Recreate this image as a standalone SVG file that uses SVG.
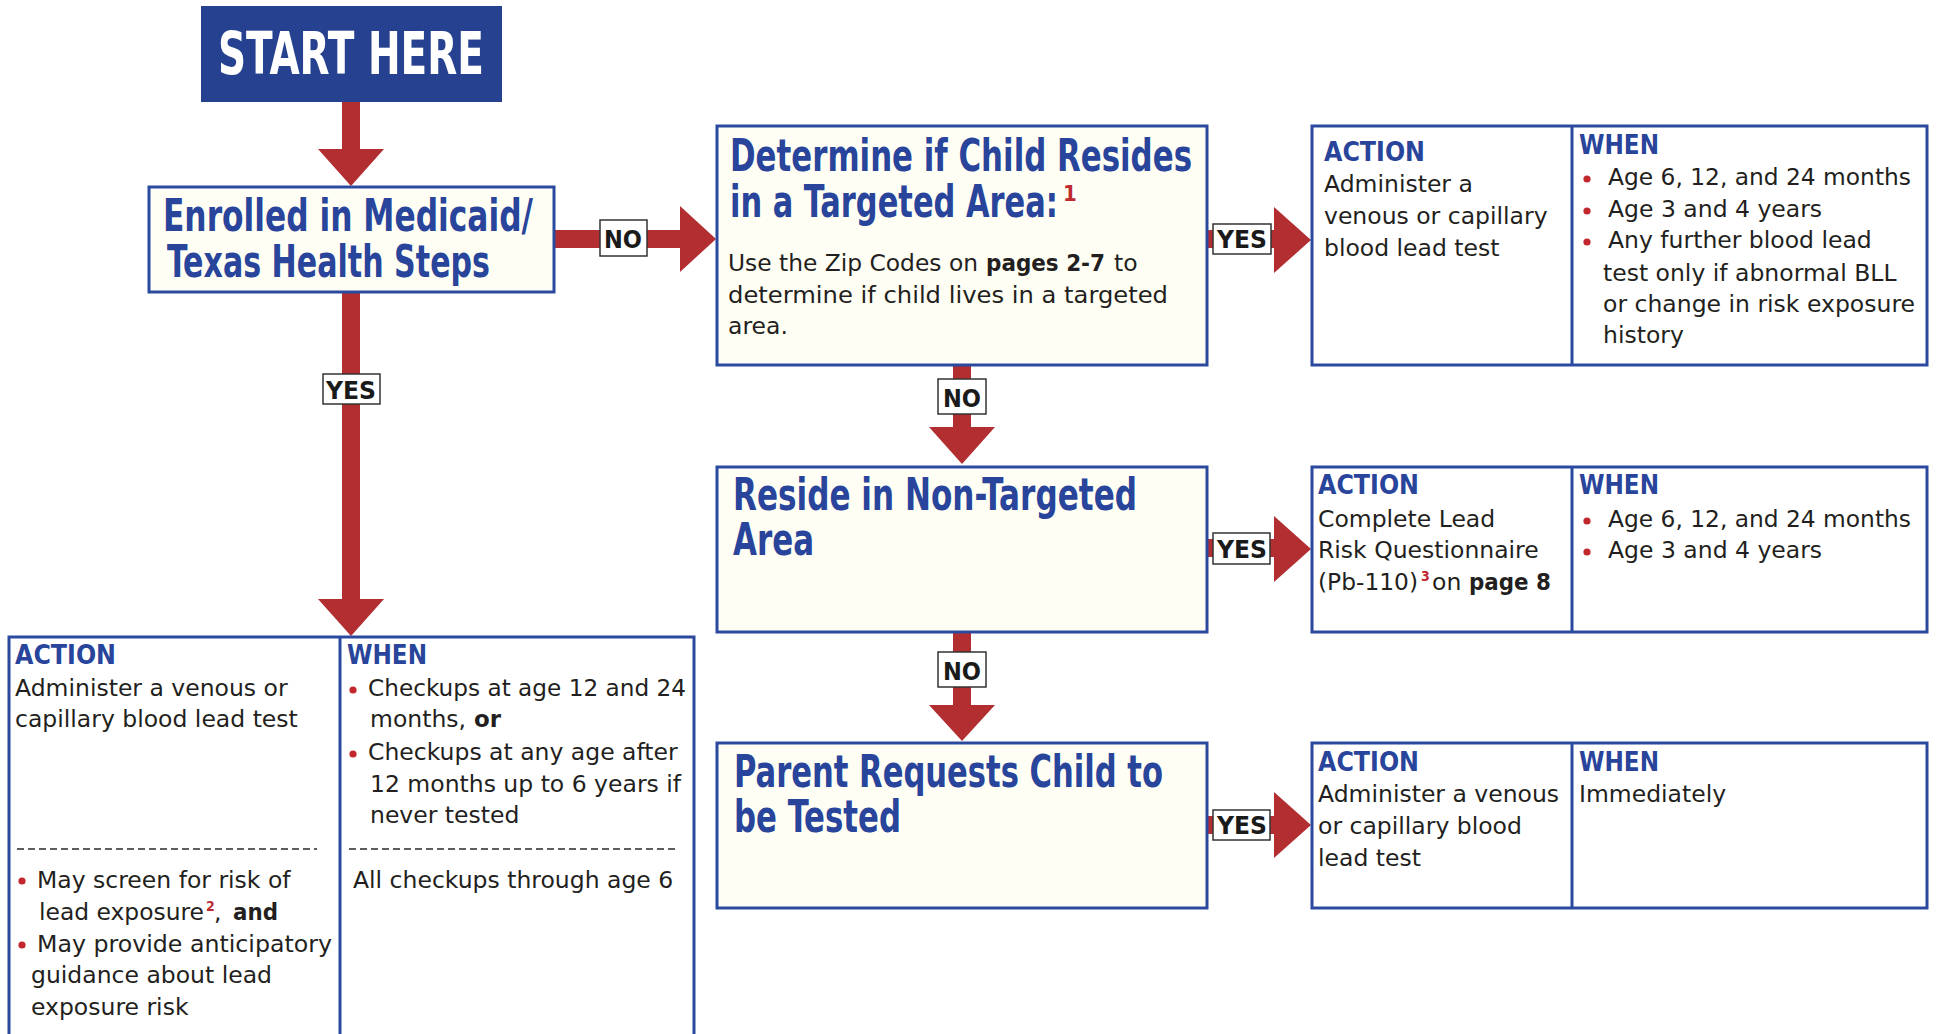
<svg xmlns="http://www.w3.org/2000/svg" width="1937" height="1034" viewBox="0 0 1937 1034">
<style>
.hd{font-family:"DejaVu Sans Condensed","DejaVu Sans",sans-serif;font-stretch:condensed;font-weight:bold;fill:#28449b;font-size:44px}
.start{font-family:"DejaVu Sans Condensed","DejaVu Sans",sans-serif;font-stretch:condensed;font-weight:bold;fill:#ffffff;font-size:58px}
.sub{font-family:"DejaVu Sans Condensed","DejaVu Sans",sans-serif;font-stretch:condensed;font-weight:bold;fill:#28449b;font-size:27px}
.bd{font-family:"DejaVu Sans",sans-serif;font-size:23.5px;fill:#231f20}
.b{font-weight:bold}
.sup{font-family:"DejaVu Sans Condensed","DejaVu Sans",sans-serif;font-stretch:condensed;font-weight:bold;fill:#be2a2f}
.lbl{font-family:"DejaVu Sans Condensed","DejaVu Sans",sans-serif;font-stretch:condensed;font-weight:bold;font-size:25px;fill:#1a1a1a}
.lblbox{fill:#ffffff;stroke:#333333;stroke-width:1.5}
.box{fill:#fffef4;stroke:#2b4a9f;stroke-width:3}
.tbl{fill:#ffffff;stroke:#2b4a9f;stroke-width:3}
.div{stroke:#2b4a9f;stroke-width:3}
.arrow{fill:#b22e31}
.dot{fill:#c1272d}
.dash{stroke:#2a2a2a;stroke-width:1.5;stroke-dasharray:7 4}
</style>

<g id="connectors">
  <!-- START -> Enrolled -->
  <rect class="arrow" x="342" y="101" width="18" height="50"/>
  <polygon class="arrow" points="318,149 384,149 351,186"/>
  <!-- Enrolled -> Determine (NO) -->
  <rect class="arrow" x="554" y="230" width="128" height="18"/>
  <polygon class="arrow" points="680,206 680,272 716,239"/>
  <rect class="lblbox" x="600" y="220" width="47" height="36"/>
  <text class="lbl" x="604" y="248" textLength="38" lengthAdjust="spacingAndGlyphs">NO</text>
  <!-- Enrolled -> bottom table (YES) -->
  <rect class="arrow" x="342" y="292" width="18" height="309"/>
  <polygon class="arrow" points="318,599 384,599 351,636"/>
  <rect class="lblbox" x="323" y="374" width="57" height="30"/>
  <text class="lbl" x="326" y="399" textLength="50" lengthAdjust="spacingAndGlyphs">YES</text>
  <!-- Determine -> Reside (NO) -->
  <rect class="arrow" x="953" y="365" width="18" height="64"/>
  <polygon class="arrow" points="929,427 995,427 962,464"/>
  <rect class="lblbox" x="938" y="379" width="48" height="35"/>
  <text class="lbl" x="943" y="407" textLength="38" lengthAdjust="spacingAndGlyphs">NO</text>
  <!-- Reside -> Parent (NO) -->
  <rect class="arrow" x="953" y="632" width="18" height="75"/>
  <polygon class="arrow" points="929,705 995,705 962,741"/>
  <rect class="lblbox" x="938" y="652" width="48" height="35"/>
  <text class="lbl" x="943" y="680" textLength="38" lengthAdjust="spacingAndGlyphs">NO</text>
  <!-- Determine -> table 1 (YES) -->
  <rect class="arrow" x="1207" y="230" width="69" height="18"/>
  <polygon class="arrow" points="1274,207 1274,273 1311,240"/>
  <rect class="lblbox" x="1213" y="224" width="58" height="30"/>
  <text class="lbl" x="1217" y="248" textLength="50" lengthAdjust="spacingAndGlyphs">YES</text>
  <!-- Reside -> table 2 (YES) -->
  <rect class="arrow" x="1207" y="539" width="69" height="18"/>
  <polygon class="arrow" points="1274,516 1274,582 1311,549"/>
  <rect class="lblbox" x="1213" y="533" width="57" height="31"/>
  <text class="lbl" x="1217" y="558" textLength="50" lengthAdjust="spacingAndGlyphs">YES</text>
  <!-- Parent -> table 3 (YES) -->
  <rect class="arrow" x="1207" y="816" width="69" height="18"/>
  <polygon class="arrow" points="1274,792 1274,858 1311,825"/>
  <rect class="lblbox" x="1213" y="810" width="57" height="30"/>
  <text class="lbl" x="1217" y="834" textLength="50" lengthAdjust="spacingAndGlyphs">YES</text>
</g>

<g id="start">
  <rect x="201" y="6" width="301" height="96" fill="#26418f"/>
  <text class="start" x="218" y="74" textLength="266" lengthAdjust="spacingAndGlyphs">START HERE</text>
</g>

<g id="enrolled">
  <rect class="box" x="149" y="187" width="405" height="105"/>
  <text class="hd" x="163" y="231" textLength="370" lengthAdjust="spacingAndGlyphs">Enrolled in Medicaid/</text>
  <text class="hd" x="167" y="277" textLength="323" lengthAdjust="spacingAndGlyphs">Texas Health Steps</text>
</g>

<g id="determine">
  <rect class="box" x="717" y="126" width="490" height="239"/>
  <text class="hd" x="730" y="171" textLength="462" lengthAdjust="spacingAndGlyphs">Determine if Child Resides</text>
  <text class="hd" x="730" y="217" textLength="328" lengthAdjust="spacingAndGlyphs">in a Targeted Area:</text>
  <text class="sup" x="1063" y="201" font-size="22">1</text>
  <text class="bd" x="728" y="271" textLength="250" lengthAdjust="spacingAndGlyphs">Use the Zip Codes on</text>
  <text class="bd b" x="986" y="271" textLength="119" lengthAdjust="spacingAndGlyphs">pages 2-7</text>
  <text class="bd" x="1114" y="271">to</text>
  <text class="bd" x="728" y="303" textLength="440" lengthAdjust="spacingAndGlyphs">determine if child lives in a targeted</text>
  <text class="bd" x="728" y="334">area.</text>
</g>

<g id="reside">
  <rect class="box" x="717" y="467" width="490" height="165"/>
  <text class="hd" x="733" y="510" textLength="404" lengthAdjust="spacingAndGlyphs">Reside in Non-Targeted</text>
  <text class="hd" x="733" y="555" textLength="81" lengthAdjust="spacingAndGlyphs">Area</text>
</g>

<g id="parent">
  <rect class="box" x="717" y="743" width="490" height="165"/>
  <text class="hd" x="734" y="787" textLength="429" lengthAdjust="spacingAndGlyphs">Parent Requests Child to</text>
  <text class="hd" x="734" y="832" textLength="167" lengthAdjust="spacingAndGlyphs">be Tested</text>
</g>

<g id="table-targeted">
  <rect class="tbl" x="1312" y="126" width="615" height="239"/>
  <line class="div" x1="1572" y1="126" x2="1572" y2="365"/>
  <text class="sub" x="1324" y="161" textLength="101" lengthAdjust="spacingAndGlyphs">ACTION</text>
  <text class="bd" x="1324" y="192">Administer a</text>
  <text class="bd" x="1324" y="224">venous or capillary</text>
  <text class="bd" x="1324" y="256">blood lead test</text>
  <text class="sub" x="1579" y="154" textLength="80" lengthAdjust="spacingAndGlyphs">WHEN</text>
  <circle class="dot" cx="1587" cy="179" r="3.6"/>
  <text class="bd" x="1608" y="185" textLength="303" lengthAdjust="spacingAndGlyphs">Age 6, 12, and 24 months</text>
  <circle class="dot" cx="1587" cy="211" r="3.6"/>
  <text class="bd" x="1608" y="217">Age 3 and 4 years</text>
  <circle class="dot" cx="1587" cy="242" r="3.6"/>
  <text class="bd" x="1608" y="248">Any further blood lead</text>
  <text class="bd" x="1603" y="281">test only if abnormal BLL</text>
  <text class="bd" x="1603" y="312" textLength="312" lengthAdjust="spacingAndGlyphs">or change in risk exposure</text>
  <text class="bd" x="1603" y="343">history</text>
</g>

<g id="table-nontargeted">
  <rect class="tbl" x="1312" y="467" width="615" height="165"/>
  <line class="div" x1="1572" y1="467" x2="1572" y2="632"/>
  <text class="sub" x="1318" y="494" textLength="101" lengthAdjust="spacingAndGlyphs">ACTION</text>
  <text class="bd" x="1318" y="527">Complete Lead</text>
  <text class="bd" x="1318" y="558">Risk Questionnaire</text>
  <text class="bd" x="1318" y="590" textLength="100" lengthAdjust="spacingAndGlyphs">(Pb-110)</text>
  <text class="sup" x="1421" y="581" font-size="14">3</text>
  <text class="bd" x="1432" y="590">on</text>
  <text class="bd b" x="1469" y="590" textLength="82" lengthAdjust="spacingAndGlyphs">page 8</text>
  <text class="sub" x="1579" y="494" textLength="80" lengthAdjust="spacingAndGlyphs">WHEN</text>
  <circle class="dot" cx="1587" cy="521" r="3.6"/>
  <text class="bd" x="1608" y="527" textLength="303" lengthAdjust="spacingAndGlyphs">Age 6, 12, and 24 months</text>
  <circle class="dot" cx="1587" cy="552" r="3.6"/>
  <text class="bd" x="1608" y="558">Age 3 and 4 years</text>
</g>

<g id="table-request">
  <rect class="tbl" x="1312" y="743" width="615" height="165"/>
  <line class="div" x1="1572" y1="743" x2="1572" y2="908"/>
  <text class="sub" x="1318" y="771" textLength="101" lengthAdjust="spacingAndGlyphs">ACTION</text>
  <text class="bd" x="1318" y="802">Administer a venous</text>
  <text class="bd" x="1318" y="834">or capillary blood</text>
  <text class="bd" x="1318" y="866">lead test</text>
  <text class="sub" x="1579" y="771" textLength="80" lengthAdjust="spacingAndGlyphs">WHEN</text>
  <text class="bd" x="1579" y="802">Immediately</text>
</g>

<g id="table-medicaid">
  <rect class="tbl" x="9" y="637" width="685" height="420"/>
  <line class="div" x1="340" y1="637" x2="340" y2="1040"/>
  <text class="sub" x="15" y="664" textLength="101" lengthAdjust="spacingAndGlyphs">ACTION</text>
  <text class="bd" x="15" y="696">Administer a venous or</text>
  <text class="bd" x="15" y="727">capillary blood lead test</text>
  <line class="dash" x1="17" y1="849" x2="317" y2="849"/>
  <circle class="dot" cx="22" cy="881" r="3.6"/>
  <text class="bd" x="37" y="888">May screen for risk of</text>
  <text class="bd" x="39" y="920" textLength="165" lengthAdjust="spacingAndGlyphs">lead exposure</text>
  <text class="sup" x="206" y="911" font-size="14">2</text>
  <text class="bd" x="214" y="920">,</text>
  <text class="bd b" x="233" y="920" textLength="45" lengthAdjust="spacingAndGlyphs">and</text>
  <circle class="dot" cx="22" cy="945" r="3.6"/>
  <text class="bd" x="37" y="952" textLength="295" lengthAdjust="spacingAndGlyphs">May provide anticipatory</text>
  <text class="bd" x="31" y="983">guidance about lead</text>
  <text class="bd" x="31" y="1015">exposure risk</text>
  <text class="sub" x="347" y="664" textLength="80" lengthAdjust="spacingAndGlyphs">WHEN</text>
  <circle class="dot" cx="353" cy="690" r="3.6"/>
  <text class="bd" x="368" y="696" textLength="318" lengthAdjust="spacingAndGlyphs">Checkups at age 12 and 24</text>
  <text class="bd" x="370" y="727">months,</text>
  <text class="bd b" x="474" y="727" textLength="27" lengthAdjust="spacingAndGlyphs">or</text>
  <circle class="dot" cx="353" cy="754" r="3.6"/>
  <text class="bd" x="368" y="760">Checkups at any age after</text>
  <text class="bd" x="370" y="792">12 months up to 6 years if</text>
  <text class="bd" x="370" y="823">never tested</text>
  <line class="dash" x1="349" y1="849" x2="677" y2="849"/>
  <text class="bd" x="353" y="888">All checkups through age 6</text>
</g>
</svg>
